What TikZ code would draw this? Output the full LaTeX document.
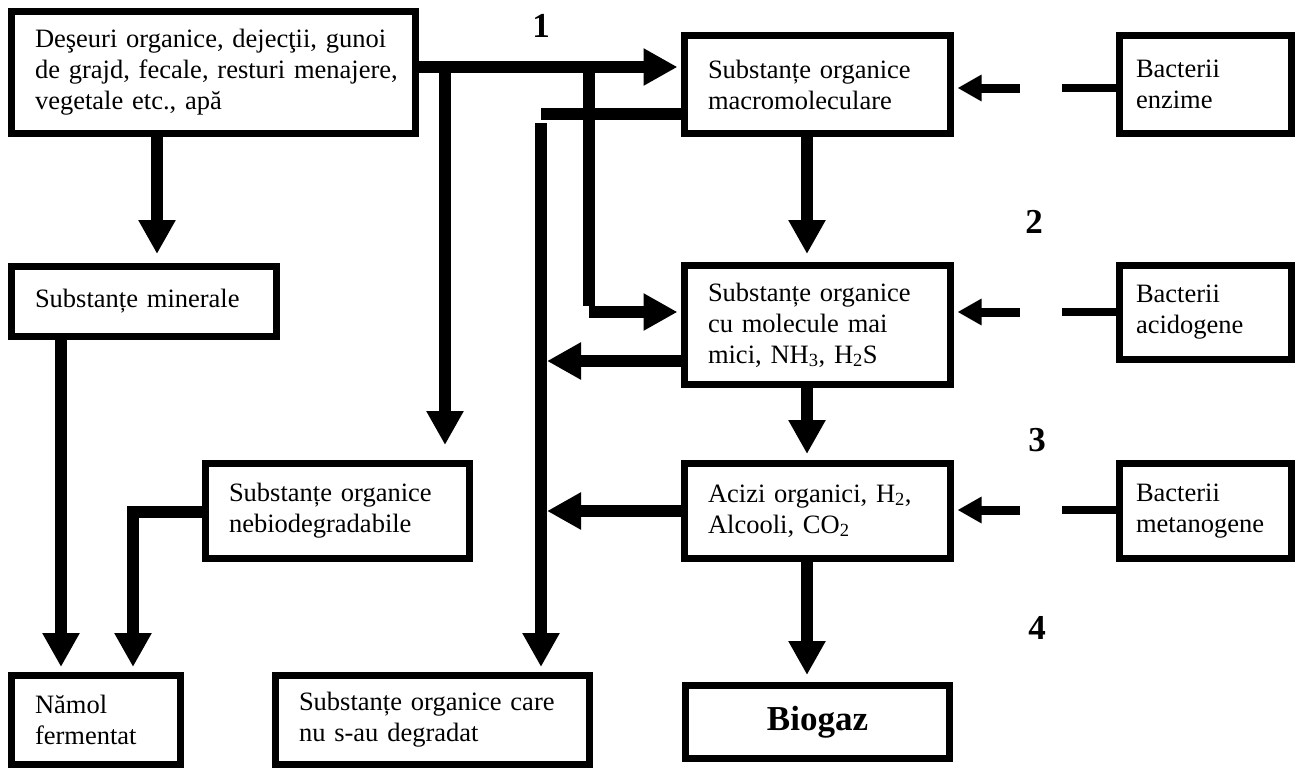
\documentclass[tikz,border=0pt]{standalone}
\usepackage{fontspec}
\setmainfont{Liberation Serif}
\usetikzlibrary{arrows.meta}
\begin{document}
\begin{tikzpicture}[x=1pt,y=-1pt,
  box/.style={draw, line width=7pt, inner xsep=23.5pt, inner ysep=1pt, align=left,
    font=\fontsize{26.5}{31}\selectfont},
  bbox/.style={box, inner xsep=16.5pt},
  main/.style={line width=12pt, -{Triangle[length=34pt,width=35pt]}},
  mainline/.style={line width=12pt},
  bact/.style={line width=9pt, -{Triangle[length=24pt,width=25pt]}},
  bactline/.style={line width=8pt},
  num/.style={font=\fontsize{35}{40}\selectfont\bfseries, inner sep=0pt}]
\useasboundingbox (0,0) rectangle (1309,780);
% boxes
\node[box, minimum width=404pt, minimum height=122pt, text width=357pt] (src) at (213.5,72.5)
  {\mbox{Deşeuri organice, dejecţii, gunoi}\\\mbox{de grajd, fecale, resturi menajere,}\\\mbox{vegetale etc., apă}};
\node[box, minimum width=266pt, minimum height=98pt, text width=219pt] (macro) at (817.5,84.5)
  {Substanțe organice\\macromoleculare};
\node[bbox, minimum width=172pt, minimum height=98pt, text width=139pt] (benz) at (1205.5,84.5)
  {Bacterii\\enzime};
\node[box, minimum width=265pt, minimum height=70pt, text width=218pt] (minerals) at (144,301.5)
  {Substanțe minerale};
\node[box, minimum width=266pt, minimum height=119pt, text width=219pt] (cumol) at (817.5,325)
  {Substanțe organice\\cu molecule mai\\mici, NH\textsubscript{3}, H\textsubscript{2}S};
\node[bbox, minimum width=172pt, minimum height=94pt, text width=139pt] (bacid) at (1205.5,312.5)
  {Bacterii\\acidogene};
\node[box, minimum width=266pt, minimum height=95pt, text width=219pt] (acizi) at (817.5,511)
  {Acizi organici, H\textsubscript{2},\\Alcooli, CO\textsubscript{2}};
\node[bbox, minimum width=172pt, minimum height=95pt, text width=139pt] (bmet) at (1205.5,511)
  {Bacterii\\metanogene};
\node[box, minimum width=264pt, minimum height=95pt, text width=217pt] (nebio) at (337.5,511)
  {Substanțe organice\\nebiodegradabile};
\node[box, minimum width=169pt, minimum height=89pt, text width=122pt] (namol) at (96,720)
  {Nămol\\fermentat};
\node[box, minimum width=314pt, minimum height=89pt, text width=267pt] (care) at (432.5,720)
  {Substanțe organice care\\nu s-au degradat};
\node[box, minimum width=264pt, minimum height=73pt, align=center,
  font=\fontsize{35}{40}\selectfont\bfseries] (biogaz) at (817.5,722) {Biogaz};
% labels
\node[num] (lbl1) at (541,26) {1};
\node[num] (lbl2) at (1034,222) {2};
\node[num] (lbl3) at (1037,440) {3};
\node[num] (lbl4) at (1037,628) {4};
% coordinates
\coordinate (a1) at (445,67);
\coordinate (c1) at (589,67);
\coordinate (c2) at (589,306);
\coordinate (c3) at (589,312);
\coordinate (b0) at (541,114);
\coordinate (b1) at (541,123);
\coordinate (l1) at (547,361);
\coordinate (l2) at (547,511);
\coordinate (n1) at (133,512);
\coordinate (m1) at (157,0);
\coordinate (m2) at (61,0);
\coordinate (v1) at (807,0);
\coordinate (e1) at (1062,88);
\coordinate (e2) at (1020,88);
\coordinate (p1) at (1062,312);
\coordinate (p2) at (1020,312);
\coordinate (t1) at (1062,510);
\coordinate (t2) at (1020,510);
% connectors
\draw[main, shorten >=3.5pt] (src.east |- a1) -- (macro.west |- a1);
\draw[main, shorten >=15pt] (a1) -- (nebio.north -| a1);
\draw[mainline] (c1) -- (c2);
\draw[main, shorten >=3.5pt] (c3) -- (cumol.west |- c3);
\draw[mainline] (macro.west |- b0) -- (b0);
\draw[main, shorten >=5pt] (b1) -- (care.north -| b1);
\draw[main] (cumol.west |- l1) -- (l1);
\draw[main] (acizi.west |- l2) -- (l2);
\draw[main, shorten >=9pt] (src.south -| m1) -- (minerals.north -| m1);
\draw[main, shorten >=5pt] (minerals.south -| m2) -- (namol.north -| m2);
\draw[main, shorten >=5pt] (nebio.west |- n1) -- (n1) -- (namol.north -| n1);
\draw[main, shorten >=8pt] (macro.south -| v1) -- (cumol.north -| v1);
\draw[main, shorten >=6pt] (cumol.south -| v1) -- (acizi.north -| v1);
\draw[main, shorten >=7pt] (acizi.south -| v1) -- (biogaz.north -| v1);
\draw[bactline] (benz.west |- e1) -- (e1);
\draw[bact, shorten >=3.5pt] (e2) -- (macro.east |- e2);
\draw[bactline] (bacid.west |- p1) -- (p1);
\draw[bact, shorten >=3.5pt] (p2) -- (cumol.east |- p2);
\draw[bactline] (bmet.west |- t1) -- (t1);
\draw[bact, shorten >=3.5pt] (t2) -- (acizi.east |- t2);
\end{tikzpicture}
\end{document}
